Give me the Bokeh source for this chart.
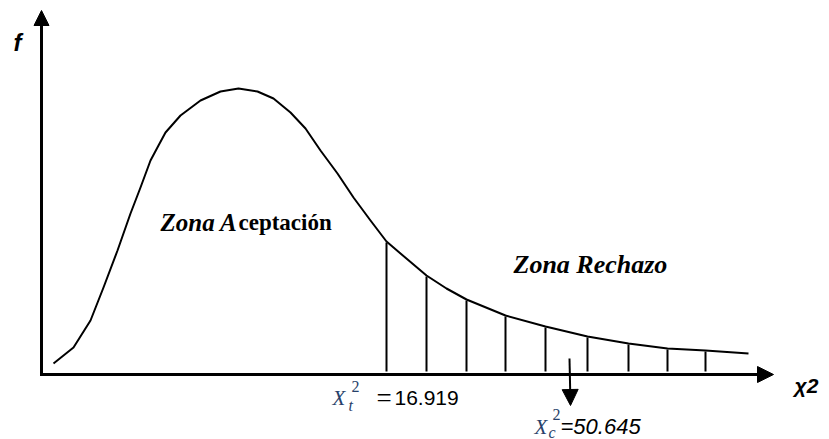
from bokeh.plotting import figure
from bokeh.models import Range1d, Label, Arrow, NormalHead
from bokeh.embed import file_html
from bokeh.resources import INLINE

# ---- data (abstract chi-square diagram units) ----
curve_x = [1.2, 2.2, 3.2, 4.9, 6.2, 7.6, 8.9, 9.9, 10.9, 11.7, 12.4, 13.9, 15.9, 17.9, 19.7,
           21.6, 23.2, 24.9, 26.4, 27.9, 29.6, 31.2, 32.9, 34.5, 35.9, 38.5, 40.5, 42.5,
           46.4, 50.4, 54.6, 58.7, 62.6, 66.4, 70.7]
curve_y = [0.11, 0.19, 0.27, 0.54, 0.87, 1.24, 1.61, 1.87, 2.14, 2.29, 2.42, 2.59, 2.74, 2.83, 2.86,
           2.83, 2.76, 2.62, 2.46, 2.24, 2.01, 1.77, 1.54, 1.33, 1.21, 0.99, 0.86, 0.75,
           0.59, 0.48, 0.38, 0.31, 0.26, 0.24, 0.21]
# indices of curve points where the rejection-zone hatch lines stand
hatch_idx = [23, 25, 27, 28, 29, 30, 31, 32, 33]
x_axis_end = 73.2
y_axis_end = 3.64
chi_t_label = "16.919"
chi_c_label = "=50.645"
chi_c_pos = 52.8

hatch_x = [curve_x[i] for i in hatch_idx]
hatch_top = [curve_y[i] - 0.01 for i in hatch_idx]
hatch_bot = [0.03] * len(hatch_idx)

p = figure(width=829, height=439, x_range=Range1d(-4.1, 78.8), y_range=Range1d(-0.65, 3.74),
           output_backend="svg", toolbar_location=None, min_border=0,
           x_axis_location=None, y_axis_location=None)
p.grid.visible = False
p.outline_line_color = None
p.background_fill_color = "white"
p.border_fill_color = "white"

p.line(curve_x, curve_y, line_width=2, color="black", line_join="round")
p.segment(x0=hatch_x, y0=hatch_bot, x1=hatch_x, y1=hatch_top, line_width=2, color="black")

# axes with arrow heads
p.add_layout(Arrow(end=NormalHead(size=16, fill_color="black", line_color="black", line_width=1),
                   x_start=-0.15, y_start=0, x_end=x_axis_end, y_end=0, line_width=3, line_color="black"))
p.add_layout(Arrow(end=NormalHead(size=15, fill_color="black", line_color="black", line_width=1),
                   x_start=0, y_start=-0.015, x_end=0, y_end=y_axis_end, line_width=3, line_color="black"))
# arrow pointing at calculated chi-square
p.add_layout(Arrow(end=NormalHead(size=16, fill_color="black", line_color="black", line_width=1),
                   x_start=chi_c_pos, y_start=0.16, x_end=chi_c_pos + 0.1, y_end=-0.31,
                   line_width=2, line_color="black"))

def lab(x, y, t, font, size, style="normal", color="black"):
    p.add_layout(Label(x=x, y=y, text=t, text_font=font, text_font_size=size,
                       text_font_style=style, text_color=color,
                       text_baseline="alphabetic", text_align="left"))

mcol = "#27416a"
lab(-2.8, 3.32, "f", "Liberation Sans", "24px", "bold italic")
lab(75.3, -0.11, "χ2", "Liberation Sans", "21px", "bold italic")
lab(11.9, 1.52, "Zona A", "Liberation Serif", "25px", "bold italic")
lab(19.7, 1.52, "ceptación", "Liberation Serif", "23px", "bold")
lab(47.2, 1.10, "Zona Rechazo", "Liberation Serif", "26px", "bold italic")

# X_t^2 =16.919
lab(29.1, -0.23, "X", "Liberation Serif", "21px", "italic", mcol)
lab(31.0, -0.12, "2", "Liberation Serif", "16px", "normal", mcol)
lab(30.7, -0.31, "t", "Liberation Serif", "16px", "italic", mcol)
lab(33.5, -0.235, "=", "Liberation Serif", "27px", "normal", "black")
lab(35.3, -0.23, chi_t_label, "Liberation Sans", "21px", "normal", "black")

# X_c^2=50.645
lab(49.3, -0.52, "X", "Liberation Serif", "21px", "italic", mcol)
lab(51.1, -0.40, "2", "Liberation Serif", "16px", "normal", mcol)
lab(50.7, -0.575, "c", "Liberation Serif", "16px", "italic", mcol)
lab(51.9, -0.52, chi_c_label, "Liberation Sans", "22px", "italic", "black")

open("out.html", "w").write(file_html(p, INLINE))
